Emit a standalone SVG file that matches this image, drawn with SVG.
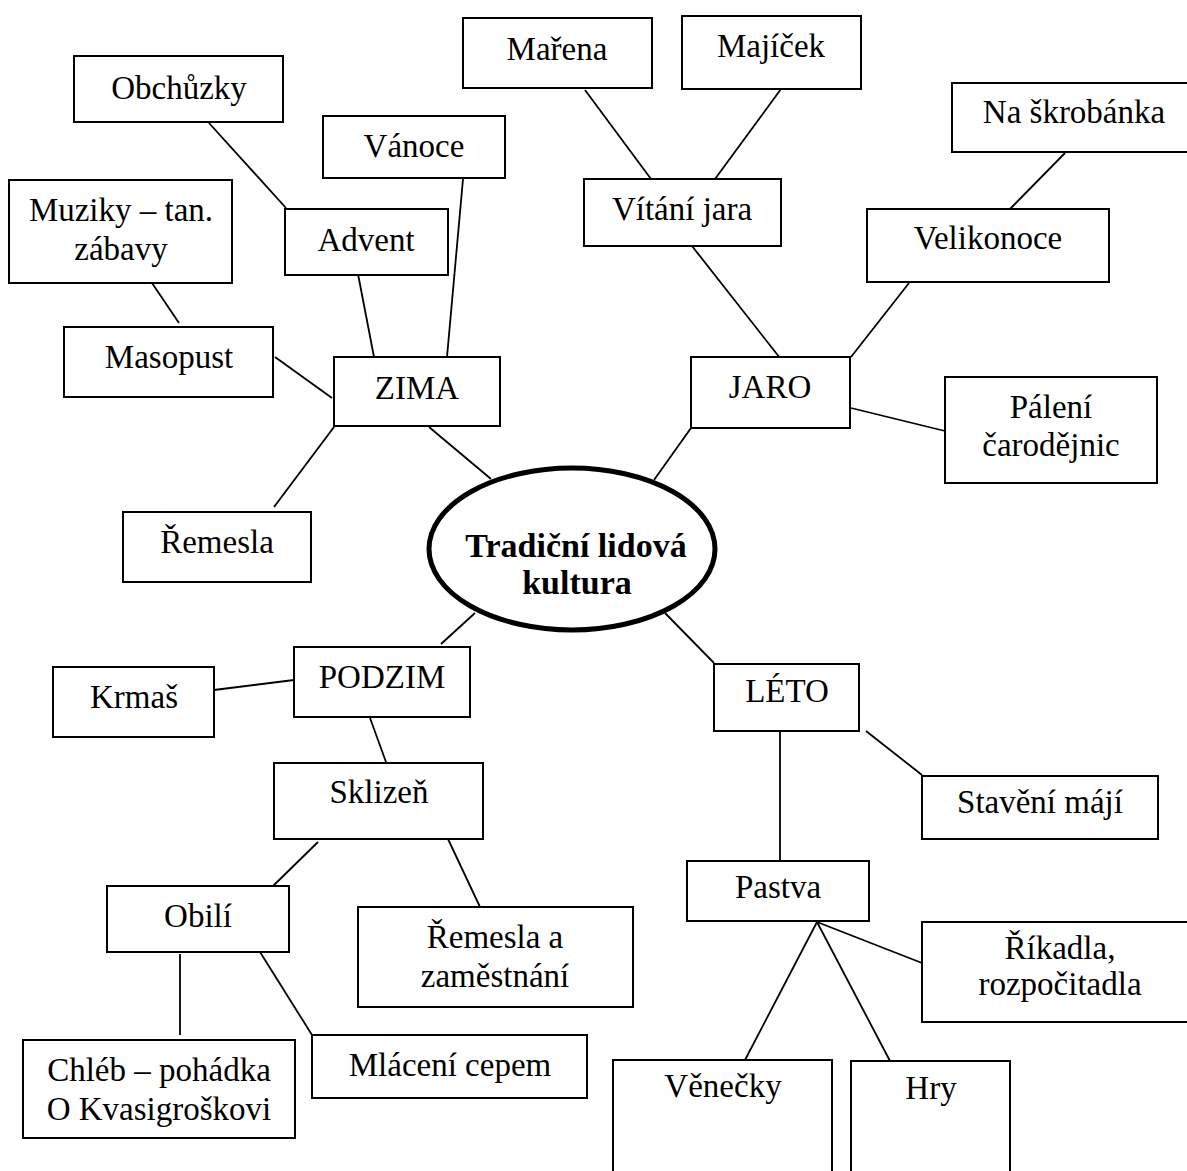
<svg xmlns="http://www.w3.org/2000/svg" width="1187" height="1171" viewBox="0 0 1187 1171">
<style>
rect.n{fill:#fff;stroke:#000;stroke-width:2}
text{font-family:"Liberation Serif","Times New Roman",serif;font-size:33px;fill:#000;text-anchor:middle}
text.b{font-weight:bold;font-size:34px}
#connectors line{stroke:#000;stroke-width:1.8}
</style>
<rect width="1187" height="1171" fill="#fff"/>
<g id="connectors">
<line x1="209" y1="123" x2="286" y2="208"/>
<line x1="463" y1="179" x2="447" y2="357"/>
<line x1="358" y1="274" x2="374" y2="357"/>
<line x1="152" y1="283" x2="179" y2="323"/>
<line x1="275" y1="357" x2="332" y2="398"/>
<line x1="334" y1="427" x2="274" y2="507"/>
<line x1="429" y1="427" x2="491" y2="479"/>
<line x1="585" y1="90" x2="651" y2="179"/>
<line x1="781" y1="89" x2="715" y2="179"/>
<line x1="1065" y1="153" x2="1010" y2="209"/>
<line x1="692" y1="246" x2="780" y2="358"/>
<line x1="909" y1="283" x2="851" y2="357"/>
<line x1="851" y1="408" x2="945" y2="431"/>
<line x1="691" y1="428" x2="654" y2="480"/>
<line x1="475" y1="613" x2="441" y2="644"/>
<line x1="214" y1="690" x2="294" y2="680"/>
<line x1="370" y1="718" x2="386" y2="762"/>
<line x1="318" y1="842" x2="273" y2="886"/>
<line x1="448" y1="839" x2="480" y2="907"/>
<line x1="180" y1="954" x2="180" y2="1035"/>
<line x1="260" y1="952" x2="312" y2="1035"/>
<line x1="665" y1="613" x2="714" y2="663"/>
<line x1="866" y1="731" x2="922" y2="775"/>
<line x1="780" y1="731" x2="780" y2="861"/>
<line x1="817" y1="922" x2="922" y2="963"/>
<line x1="817" y1="922" x2="745" y2="1060"/>
<line x1="817" y1="922" x2="890" y2="1061"/>
</g>
<g id="center">
<ellipse cx="572" cy="549" rx="143" ry="81" fill="#fff" stroke="#000" stroke-width="5"/>
<text class="b" x="576" y="557">Tradiční lidová</text>
<text class="b" x="577" y="594">kultura</text>
</g>
<g id="obchuzky"><rect class="n" x="74" y="56" width="209" height="66"/><text x="179" y="99">Obchůzky</text></g>
<g id="vanoce"><rect class="n" x="323" y="116" width="182" height="62"/><text x="414" y="157">Vánoce</text></g>
<g id="muziky"><rect class="n" x="9" y="180" width="223" height="103"/><text x="121" y="221">Muziky – tan.</text><text x="121" y="260">zábavy</text></g>
<g id="advent"><rect class="n" x="285" y="209" width="163" height="66"/><text x="366" y="251">Advent</text></g>
<g id="masopust"><rect class="n" x="64" y="327" width="209" height="70"/><text x="169" y="368">Masopust</text></g>
<g id="zima"><rect class="n" x="334" y="357" width="166" height="69"/><text x="417" y="399">ZIMA</text></g>
<g id="remesla"><rect class="n" x="123" y="512" width="188" height="70"/><text x="217" y="553">Řemesla</text></g>
<g id="marena"><rect class="n" x="463" y="18" width="189" height="70"/><text x="557" y="60">Mařena</text></g>
<g id="majicek"><rect class="n" x="682" y="16" width="179" height="73"/><text x="771" y="57">Majíček</text></g>
<g id="naskrobanka"><rect class="n" x="952" y="83" width="246" height="69"/><text x="1074" y="123">Na škrobánka</text></g>
<g id="vitani"><rect class="n" x="584" y="179" width="197" height="67"/><text x="682" y="220">Vítání jara</text></g>
<g id="velikonoce"><rect class="n" x="867" y="209" width="242" height="73"/><text x="988" y="249">Velikonoce</text></g>
<g id="jaro"><rect class="n" x="691" y="357" width="159" height="71"/><text x="770" y="398">JARO</text></g>
<g id="paleni"><rect class="n" x="945" y="377" width="212" height="106"/><text x="1051" y="418">Pálení</text><text x="1051" y="456">čarodějnic</text></g>
<g id="podzim"><rect class="n" x="294" y="647" width="176" height="70"/><text x="382" y="688">PODZIM</text></g>
<g id="krmas"><rect class="n" x="53" y="667" width="161" height="70"/><text x="134" y="708">Krmaš</text></g>
<g id="sklizen"><rect class="n" x="274" y="763" width="209" height="76"/><text x="379" y="803">Sklizeň</text></g>
<g id="obili"><rect class="n" x="107" y="886" width="182" height="66"/><text x="198" y="927">Obilí</text></g>
<g id="remeslaz"><rect class="n" x="358" y="907" width="275" height="100"/><text x="495" y="948">Řemesla a</text><text x="495" y="987">zaměstnání</text></g>
<g id="chleb"><rect class="n" x="23" y="1040" width="272" height="98"/><text x="159" y="1081">Chléb – pohádka</text><text x="159" y="1120">O Kvasigroškovi</text></g>
<g id="mlaceni"><rect class="n" x="312" y="1035" width="275" height="63"/><text x="450" y="1076">Mlácení cepem</text></g>
<g id="leto"><rect class="n" x="714" y="664" width="145" height="67"/><text x="787" y="702">LÉTO</text></g>
<g id="staveni"><rect class="n" x="922" y="776" width="236" height="63"/><text x="1040" y="813">Stavění májí</text></g>
<g id="pastva"><rect class="n" x="687" y="861" width="182" height="60"/><text x="778" y="898">Pastva</text></g>
<g id="rikadla"><rect class="n" x="922" y="922" width="276" height="100"/><text x="1060" y="959">Říkadla,</text><text x="1060" y="995">rozpočitadla</text></g>
<g id="venecky"><rect class="n" x="613" y="1060" width="219" height="130"/><text x="723" y="1097">Věnečky</text></g>
<g id="hry"><rect class="n" x="851" y="1061" width="159" height="130"/><text x="931" y="1099">Hry</text></g>
</svg>
